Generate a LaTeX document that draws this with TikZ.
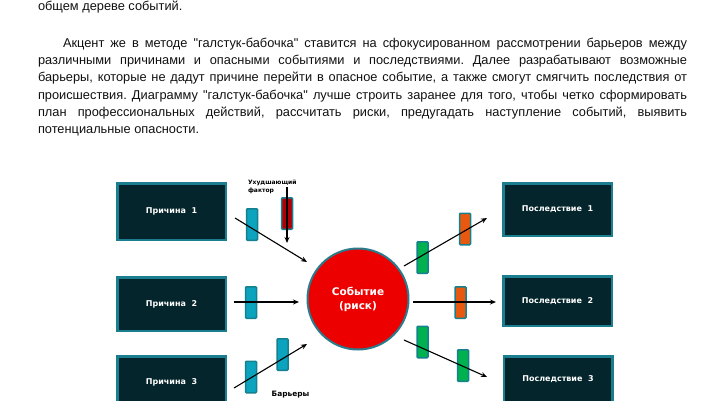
\documentclass[tikz,border=0pt]{standalone}
\usepackage{fontspec}
\setmainfont{Liberation Sans}
\newfontfamily\parafont{Liberation Sans}
\newfontfamily\djv{DejaVu Sans}
\usetikzlibrary{arrows.meta}
\definecolor{boxfill}{HTML}{03252B}
\definecolor{boxedge}{HTML}{1B7E8E}
\definecolor{barteal}{HTML}{0BA3BD}
\definecolor{baredge}{HTML}{17808F}
\definecolor{bargreen}{HTML}{00B14F}
\definecolor{barorange}{HTML}{E8580F}
\definecolor{barred}{HTML}{B00008}
\definecolor{evred}{HTML}{EC0000}
\definecolor{evedge}{HTML}{2A7B8C}
\definecolor{txt}{HTML}{111111}
\frenchspacing
\begin{document}
\begin{tikzpicture}[x=1pt,y=-1pt,
  every node/.style={inner sep=0pt, outer sep=0pt},
  paraline/.style={anchor=base west, text=txt, font=\parafont\fontsize{12.8}{15}\selectfont},
  causebox/.style={draw=boxedge, line width=2.5pt, fill=boxfill, minimum width=108.5pt,
     minimum height=55pt, text=white, font=\djv\bfseries\fontsize{8}{9}\selectfont},
  barrier/.style={draw=baredge, line width=1.5pt, rounded corners=1pt,
     minimum width=11pt, minimum height=31.5pt},
  tealbar/.style={barrier, fill=barteal},
  greenbar/.style={barrier, fill=bargreen},
  orangebar/.style={barrier, fill=barorange},
  redbar/.style={barrier, fill=barred},
  event/.style={circle, draw=evedge, line width=2pt, fill=evred, minimum size=101pt,
     text=white, align=center, font=\djv\bfseries\fontsize{10.5}{14}\selectfont},
  conn/.style={line width=1.1pt, -{Stealth[length=6pt,width=5pt]}},
  smalllab/.style={text=black, align=left, font=\djv\bfseries\fontsize{6}{8}\selectfont}
]
\useasboundingbox (0,0) rectangle (719,400);
\fill[white] (0,0) rectangle (719,400);

% paragraph text
\node[paraline] (p0) at (38,10.3) {общем дереве событий.};
\node[paraline] (p1) at (63,47.3) {\makebox[624pt][s]{Акцент же в методе "галстук-бабочка" ставится на сфокусированном рассмотрении барьеров между}};
\node[paraline] (p2) at (38,64.6) {\makebox[649pt][s]{различными причинами и опасными событиями и последствиями. Далее разрабатывают возможные}};
\node[paraline] (p3) at (38,81.9) {\makebox[649pt][s]{барьеры, которые не дадут причине перейти в опасное событие, а также смогут смягчить последствия от}};
\node[paraline] (p4) at (38,99.2) {\makebox[649pt][s]{происшествия. Диаграмму "галстук-бабочка" лучше строить заранее для того, чтобы четко сформировать}};
\node[paraline] (p5) at (38,116.5) {\makebox[649pt][s]{план профессиональных действий, рассчитать риски, предугадать наступление событий, выявить}};
\node[paraline] (p6) at (38,133.8) {потенциальные опасности.};

% causes
\node[causebox, minimum height=56.5pt] (c1) at (171.5,211.5) {Причина\ \ 1};
\node[causebox, minimum height=53.5pt] (c2) at (171.5,304) {Причина\ \ 2};
\node[causebox, minimum height=51.5pt] (c3) at (171.5,382) {Причина\ \ 3};

% consequences
\node[causebox, minimum height=52.5pt] (s1) at (557.5,209.5) {Последствие\ \ 1};
\node[causebox, minimum height=49.5pt] (s2) at (557.5,301) {Последствие\ \ 2};
\node[causebox, minimum height=45.5pt] (s3) at (558,379) {Последствие\ \ 3};

% event
\node[event] (ev) at (358,299) {Событие\\(риск)};

% barriers left
\node[tealbar] (b1) at (252,224.5) {};
\node[tealbar] (b2) at (251,302.5) {};
\node[tealbar] (b3a) at (251,377) {};
\node[tealbar] (b3b) at (282.5,354.5) {};
\node[redbar] (fb) at (287,213.5) {};

% barriers right
\node[greenbar] (g1) at (422.5,257.5) {};
\node[orangebar] (o1) at (465,229) {};
\node[orangebar] (o2) at (460.5,302.5) {};
\node[greenbar] (g2) at (422.5,342) {};
\node[greenbar] (g3) at (463,365.5) {};

% labels
\node[smalllab, anchor=north west] (flab) at (248,180) {Ухудшающий\\фактор};
\node[text=black, font=\djv\bfseries\fontsize{7.4}{9}\selectfont] (blab) at (290.5,395) {Барьеры};

% connector end points
\coordinate (a1s) at (235,218);  \coordinate (a1e) at (307,262);
\coordinate (a2s) at (234,302);  \coordinate (a2e) at (299,302);
\coordinate (a3s) at (234,388);  \coordinate (a3e) at (307,344);
\coordinate (d1s) at (404,266);  \coordinate (d1e) at (487,218);
\coordinate (d2s) at (413,302);  \coordinate (d2e) at (496,302);
\coordinate (d3s) at (404,340);  \coordinate (d3e) at (487,377);
\coordinate (fs) at (287,187);   \coordinate (fe) at (287,243);

\draw[conn] (a1s) -- (a1e);
\draw[conn] (a2s) -- (a2e);
\draw[conn] (a3s) -- (a3e);
\draw[conn] (d1s) -- (d1e);
\draw[conn] (d2s) -- (d2e);
\draw[conn] (d3s) -- (d3e);
\draw[conn] (fs) -- (fe);
\end{tikzpicture}
\end{document}
